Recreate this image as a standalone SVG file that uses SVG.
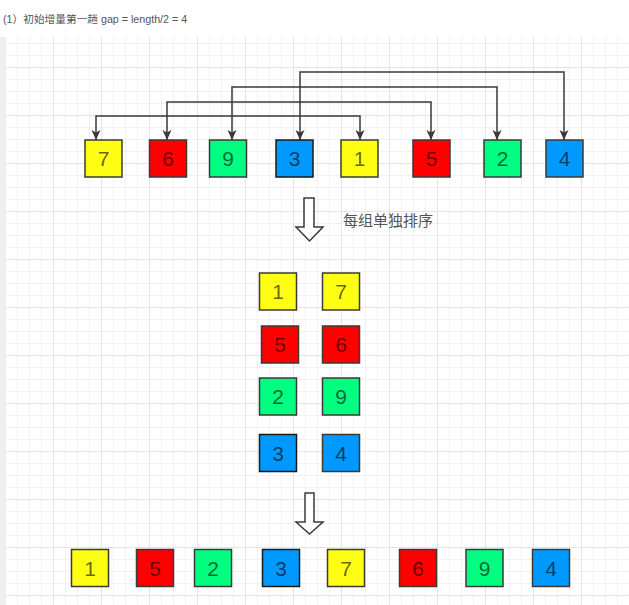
<svg xmlns="http://www.w3.org/2000/svg" width="629" height="605" viewBox="0 0 629 605">
<style>
.box{stroke:#3a3a3a;stroke-width:1.5}
.y{fill:#FFFF14}
.r{fill:#FF0000}
.g{fill:#00FF80}
.b{fill:#0099FF}
.b2{stroke:#1a1a1a}
.num{font-family:"Liberation Sans",Arial,sans-serif;font-size:21px;fill:#000;fill-opacity:0.62;text-anchor:middle}
.conn{fill:none;stroke:#3a3a3a;stroke-width:1.5}
.hollow{fill:#fff;stroke:#3a3a3a;stroke-width:1.5;stroke-linejoin:miter}
</style>
<defs>
<pattern id="minor" patternUnits="userSpaceOnUse" x="5" y="43" width="12" height="12">
<path d="M0.5 0V12M0 0.5H12" stroke="#f1f1f1" stroke-width="1" fill="none"/>
</pattern>
<pattern id="majorV" patternUnits="userSpaceOnUse" x="5" y="19" width="48" height="48">
<path d="M0.5 0V48M0 0.5H48" stroke="#e4e4e4" stroke-width="1" fill="none"/>
</pattern>
<marker id="ah" markerUnits="userSpaceOnUse" markerWidth="12" markerHeight="10" refX="10" refY="4.5" orient="auto-start-reverse">
<path d="M0 0L10 4.5L0 9L2.5 4.5Z" fill="#3a3a3a"/>
</marker>
</defs>
<rect width="629" height="605" fill="#fff"/>
<text x="3" y="23" font-family="'Liberation Sans','Noto Sans CJK SC',sans-serif" font-size="10.7" fill="#555">(1）初始增量第一趟 gap = length/2 = 4</text>
<rect x="0" y="37" width="6" height="568" fill="#efefef"/>
<rect x="6" y="37" width="623" height="568" fill="url(#minor)"/>
<rect x="6" y="37" width="623" height="568" fill="url(#majorV)"/>

<g id="connectors">
<path class="conn" d="M96 140V116H360V140" marker-start="url(#ah)" marker-end="url(#ah)"/>
<path class="conn" d="M167 140V102H431V140" marker-start="url(#ah)" marker-end="url(#ah)"/>
<path class="conn" d="M232 140V87H497V140" marker-start="url(#ah)" marker-end="url(#ah)"/>
<path class="conn" d="M300 140V72H564V140" marker-start="url(#ah)" marker-end="url(#ah)"/>
<path id="arrow1" class="hollow" d="M304 198H314V227H323L309.5 241L296 227H304Z"/>
<path id="arrow2" class="hollow" d="M305 493H314V522H323L309.5 534L296 522H305Z"/>
</g>

<g id="label-sort"><text x="343" y="225.5" font-family="'Noto Sans CJK SC',sans-serif" font-size="15" fill="#555">每组单独排序</text></g>

<g id="t7"><rect class="box y" x="85" y="140" width="37" height="37"/><text class="num" x="103.5" y="166">7</text></g>
<g id="t6"><rect class="box r" x="149.5" y="140" width="37" height="37"/><text class="num" x="168" y="166">6</text></g>
<g id="t9"><rect class="box g" x="209.5" y="140" width="37" height="37"/><text class="num" x="228" y="166">9</text></g>
<g id="t3"><rect class="box b b2" x="276" y="140" width="37" height="37"/><text class="num" x="294.5" y="166">3</text></g>
<g id="t1"><rect class="box y" x="341" y="140" width="37" height="37"/><text class="num" x="359.5" y="166">1</text></g>
<g id="t5"><rect class="box r" x="413" y="140" width="37" height="37"/><text class="num" x="431.5" y="166">5</text></g>
<g id="t2"><rect class="box g" x="484" y="140" width="37" height="37"/><text class="num" x="502.5" y="166">2</text></g>
<g id="t4"><rect class="box b" x="546" y="140" width="37" height="37"/><text class="num" x="564.5" y="166">4</text></g>

<g id="m1"><rect class="box y" x="259.5" y="273" width="37" height="37"/><text class="num" x="278" y="299">1</text></g>
<g id="m7"><rect class="box y" x="322.5" y="273" width="37" height="37"/><text class="num" x="341" y="299">7</text></g>
<g id="m5"><rect class="box r" x="261.5" y="326" width="37" height="37"/><text class="num" x="280" y="352">5</text></g>
<g id="m6"><rect class="box r" x="322.5" y="326" width="37" height="37"/><text class="num" x="341" y="352">6</text></g>
<g id="m2"><rect class="box g" x="259.5" y="378" width="37" height="37"/><text class="num" x="278" y="404">2</text></g>
<g id="m9"><rect class="box g" x="322.5" y="378" width="37" height="37"/><text class="num" x="341" y="404">9</text></g>
<g id="m3"><rect class="box b b2" x="259.5" y="434.5" width="37" height="37"/><text class="num" x="278" y="460.5">3</text></g>
<g id="m4"><rect class="box b" x="322.5" y="434.5" width="37" height="37"/><text class="num" x="341" y="460.5">4</text></g>

<g id="b1"><rect class="box y" x="71.5" y="549.5" width="37" height="37"/><text class="num" x="90" y="575.5">1</text></g>
<g id="b5"><rect class="box r" x="136.5" y="549.5" width="37" height="37"/><text class="num" x="155" y="575.5">5</text></g>
<g id="b2"><rect class="box g" x="194.5" y="549.5" width="37" height="37"/><text class="num" x="213" y="575.5">2</text></g>
<g id="b3"><rect class="box b b2" x="262.5" y="549.5" width="37" height="37"/><text class="num" x="281" y="575.5">3</text></g>
<g id="b7"><rect class="box y" x="327.5" y="549.5" width="37" height="37"/><text class="num" x="346" y="575.5">7</text></g>
<g id="b6"><rect class="box r" x="399.5" y="549.5" width="37" height="37"/><text class="num" x="418" y="575.5">6</text></g>
<g id="b9"><rect class="box g" x="466" y="549.5" width="37" height="37"/><text class="num" x="484.5" y="575.5">9</text></g>
<g id="b4"><rect class="box b" x="532.5" y="549.5" width="37" height="37"/><text class="num" x="551" y="575.5">4</text></g>
</svg>
